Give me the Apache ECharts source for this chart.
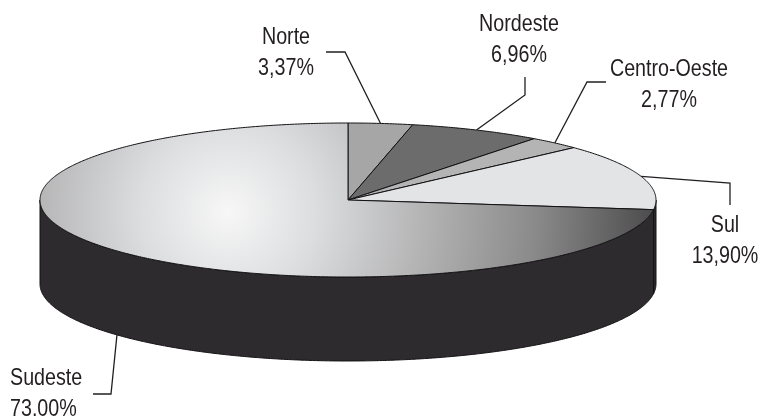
<!DOCTYPE html>
<html>
<head>
<meta charset="utf-8">
<script src="https://cdn.jsdelivr.net/npm/echarts@6/dist/echarts.min.js"></script>
<style>
html,body{margin:0;padding:0;background:#fff;}
#chart{width:760px;height:420px;}
</style>
</head>
<body>
<div id="chart"></div>
<script>
// ---- data ----
const categories = ['Norte', 'Nordeste', 'Centro-Oeste', 'Sul', 'Sudeste'];
const values = [3.37, 6.96, 2.77, 13.90, 73.00];
const pctLabels = ['3,37%', '6,96%', '2,77%', '13,90%', '73.00%'];

// ---- styles / layout (not data) ----
const topColors = ['#a6a6a6', '#6c6c6c', '#b4b4b4', '#e3e4e6', 'gradient'];
const sideColor = '#2e2b2f';
const edgeColor = '#141214';
const FONT = '24px "Liberation Sans", Arial, sans-serif';
const TEXT_SQUEEZE = 0.82;
// label block centre, alignment, and elbow points of the leader line
const labelLayout = [
  { x: 286, y: 53, align: 'center', elbow: [[345, 52], [326, 52]] },
  { x: 519, y: 40, align: 'center', elbow: [[525, 95], [525, 77]] },
  { x: 669, y: 85, align: 'center', elbow: [[587, 82], [606, 82]] },
  { x: 725, y: 241, align: 'center', elbow: [[730, 183], [730, 205]] },
  { x: 10, y: 394, align: 'left', elbow: [[111, 394], [93, 394]] }
];

const CX = 348, CY = 200, RX = 308, RY = 77, DEPTH = 84;
const total = values.reduce((a, b) => a + b, 0);

function pt(deg, dy) {
  const r = deg * Math.PI / 180;
  return [CX + RX * Math.sin(r), CY - RY * Math.cos(r) + (dy || 0)];
}
function arc(a0, a1, dy) {
  const pts = [];
  const n = Math.max(2, Math.ceil(Math.abs(a1 - a0) / 0.5));
  for (let i = 0; i <= n; i++) pts.push(pt(a0 + (a1 - a0) * i / n, dy));
  return pts;
}

const sudesteGrad = new echarts.graphic.RadialGradient(228, 212, 440, [
  { offset: 0, color: '#f7f7f7' },
  { offset: 0.2, color: '#dcdddf' },
  { offset: 0.43, color: '#b6b6b7' },
  { offset: 0.7, color: '#8a8a8b' },
  { offset: 0.95, color: '#505051' },
  { offset: 1, color: '#474748' }
], true);

function renderItem(params, api) {
  const i = params.dataIndex;
  let before = 0;
  for (let k = 0; k < i; k++) before += values[k];
  const a0 = before / total * 360;
  const a1 = (before + values[i]) / total * 360;
  const mid = (a0 + a1) / 2;
  const children = [];

  // visible side wall (front half: 90..270 deg)
  const s0 = Math.max(a0, 90), s1 = Math.min(a1, 270);
  if (s1 > s0) {
    const pts = arc(s0, s1, 0).concat(arc(s1, s0, DEPTH));
    children.push({
      type: 'polygon', z2: 1,
      shape: { points: pts },
      style: { fill: sideColor, stroke: edgeColor, lineWidth: 1 }
    });
  }

  // top face
  const topPts = [[CX, CY]].concat(arc(a0, a1, 0));
  children.push({
    type: 'polygon', z2: 5,
    shape: { points: topPts },
    style: {
      fill: topColors[i] === 'gradient' ? sudesteGrad : topColors[i],
      stroke: edgeColor, lineWidth: 1
    }
  });

  // leader line
  const onFront = Math.cos(mid * Math.PI / 180) < 0;
  const anchor = pt(mid, onFront ? DEPTH : 0);
  const lay = labelLayout[i];
  children.push({
    type: 'polyline', z2: 10,
    shape: { points: [anchor].concat(lay.elbow) },
    style: { fill: null, stroke: '#231f20', lineWidth: 1.3 }
  });

  // label text (horizontally condensed like the original typeface)
  children.push({
    type: 'text', z2: 10,
    x: lay.x, y: lay.y,
    scaleX: TEXT_SQUEEZE, scaleY: 1,
    style: {
      text: categories[i] + '\n' + pctLabels[i],
      x: 0, y: 0,
      align: lay.align, verticalAlign: 'middle',
      lineHeight: 31,
      font: FONT,
      fill: '#231f20'
    }
  });

  return { type: 'group', children: children };
}

const chart = echarts.init(document.getElementById('chart'), null, { renderer: 'canvas' });
chart.setOption({
  backgroundColor: '#ffffff',
  animation: false,
  series: [{
    type: 'custom',
    coordinateSystem: 'none',
    renderItem: renderItem,
    data: values.map((v, i) => ({ name: categories[i], value: v }))
  }]
});
</script>
</body>
</html>
